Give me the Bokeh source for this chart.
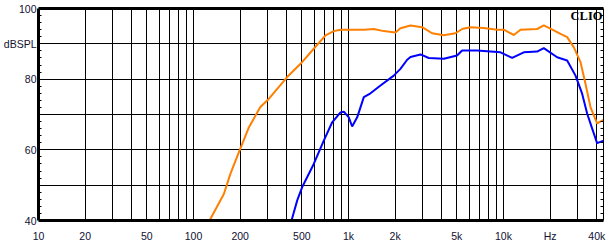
from bokeh.plotting import figure
from bokeh.models import Range1d, FixedTicker, LinearAxis, Label
from bokeh.embed import file_html
from bokeh.resources import INLINE

# ---- data ----
orange_f = [127, 157, 173, 199, 228, 270, 306, 402, 502, 597, 711, 804, 888, 1256, 1457,
            1690, 2011, 2163, 2512, 2987, 3466, 4121, 4900, 5410, 6122, 7465, 9106, 10050,
            11660, 12880, 16490, 18200, 21130, 23330, 25760, 28450, 31420, 33820, 36420,
            40200, 44300]
orange_db = [40.0, 47.5, 53.2, 60.0, 66.4, 72.1, 74.4, 80.6, 84.8, 88.6, 92.4, 93.6, 94.0,
             94.0, 94.2, 93.6, 93.2, 94.4, 95.2, 94.7, 93.0, 92.4, 93.0, 94.2, 94.7, 94.5,
             94.0, 94.0, 92.5, 94.0, 94.2, 95.2, 93.8, 92.8, 91.9, 89.0, 84.8, 78.7, 72.1,
             67.5, 68.5]

blue_f = [429, 467, 502, 597, 693, 785, 888, 933, 1005, 1056, 1138, 1256, 1387, 1609, 1960,
          2163, 2392, 2512, 2915, 3296, 4121, 5020, 5410, 6761, 9570, 11380, 13520, 16490,
          18200, 22200, 25760, 29170, 32180, 34700, 37360, 40200, 44300]
blue_db = [40.0, 45.7, 49.4, 56.0, 62.6, 67.8, 70.6, 70.8, 69.2, 66.6, 69.2, 74.9, 76.0,
           78.2, 81.0, 82.9, 85.5, 86.3, 87.0, 86.0, 85.8, 86.7, 88.1, 88.1, 87.6, 86.0,
           87.6, 87.8, 88.8, 86.2, 85.3, 81.0, 75.9, 70.2, 66.0, 61.9, 62.6]

x_tick_values = [10, 20, 50, 100, 200, 500, 1000, 2000, 5000, 10000, 20000, 40000]
x_tick_labels = ["10", "20", "50", "100", "200", "500", "1k", "2k", "5k", "10k", "Hz", "40k"]
x_grid_values = [m * d for d in (10, 100, 1000, 10000) for m in range(1, 10) if m * d <= 40000]

y_grid_values = [40, 50, 60, 70, 80, 90, 100]
y_tick_values = [40, 60, 80, 90, 100]
y_tick_labels = ["40", "60", "80", "dBSPL", "100"]
y_minor_values = [v for v in range(42, 100, 2)]

FONT = "Liberation Sans"

p = figure(width=612, height=250, x_axis_type="log",
           x_range=Range1d(10, 44200), y_range=Range1d(40, 100),
           output_backend="svg", toolbar_location=None,
           min_border_left=38, min_border_right=9, min_border_top=8, min_border_bottom=30)
p.background_fill_color = "white"
p.border_fill_color = "white"
p.outline_line_color = None

# grids
p.xgrid.ticker = FixedTicker(ticks=x_grid_values)
p.ygrid.ticker = FixedTicker(ticks=y_grid_values)
for g in (p.xgrid, p.ygrid):
    g.grid_line_color = "black"
    g.grid_line_width = 1
    g.grid_line_alpha = 1.0

# bottom axis
xa = p.xaxis[0]
xa.ticker = FixedTicker(ticks=x_tick_values, minor_ticks=[])
xa.major_label_overrides = {v: s for v, s in zip(x_tick_values, x_tick_labels)}
xa.axis_line_width = 3
xa.axis_line_color = "black"
xa.major_tick_in = 0
xa.major_tick_out = 0
xa.minor_tick_line_color = None
xa.major_label_standoff = 9
xa.major_label_text_font = FONT
xa.major_label_text_font_size = "10.5px"
xa.major_label_text_color = "#111133"

# left axis
ya = p.yaxis[0]
ya.ticker = FixedTicker(ticks=y_tick_values, minor_ticks=y_minor_values)
ya.major_label_overrides = {v: s for v, s in zip(y_tick_values, y_tick_labels)}
ya.axis_line_width = 3
ya.axis_line_color = "black"
ya.major_tick_in = 0
ya.major_tick_out = 0
ya.minor_tick_in = 3
ya.minor_tick_out = 0
ya.minor_tick_line_color = "black"
ya.major_label_standoff = 2
ya.major_label_text_font = FONT
ya.major_label_text_font_size = "10.5px"
ya.major_label_text_color = "#111133"

# right axis (minor ticks only, no labels)
ra = LinearAxis(ticker=FixedTicker(ticks=[], minor_ticks=y_minor_values))
ra.major_label_standoff = 0
ra.major_tick_in = 0
ra.major_tick_out = 0
ra.minor_tick_in = 3
ra.minor_tick_out = 0
ra.minor_tick_line_color = "black"
ra.axis_line_width = 1
ra.axis_line_color = "black"
p.add_layout(ra, "right")

# top axis (frame line only)
ta = LinearAxis(ticker=FixedTicker(ticks=[], minor_ticks=[]))
ta.major_label_standoff = 0
ta.major_tick_in = 0
ta.major_tick_out = 0
ta.minor_tick_line_color = None
ta.axis_line_width = 3
ta.axis_line_color = "black"
p.add_layout(ta, "above")

# curves
p.line(orange_f, orange_db, line_color="#FF8000", line_width=2)
p.line(blue_f, blue_db, line_color="#0000FF", line_width=2)

p.add_layout(Label(x=44200, y=100, text="CLIO", text_align="right", text_baseline="top",
                   text_font="Liberation Serif", text_font_style="bold",
                   text_font_size="12.5px", text_color="black", x_offset=-1))

open("out.html", "w").write(file_html(p, INLINE))
